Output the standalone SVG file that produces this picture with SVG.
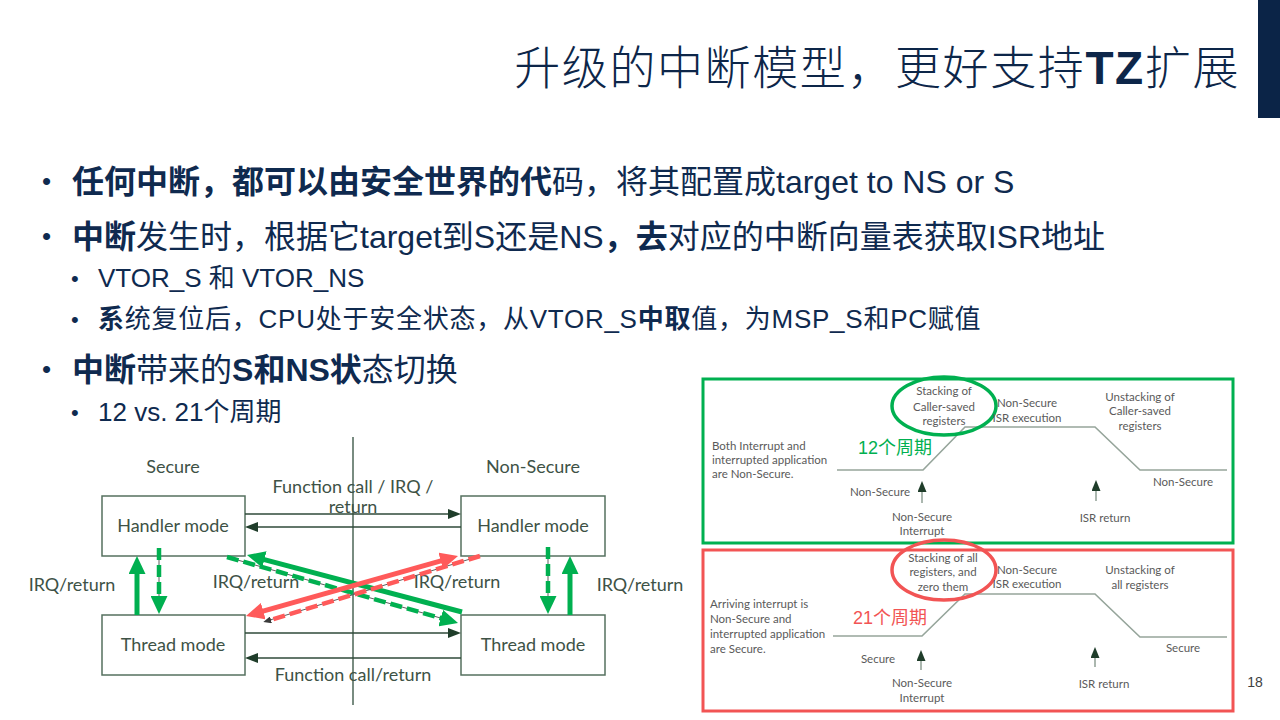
<svg xmlns="http://www.w3.org/2000/svg" width="1280" height="720" viewBox="0 0 1280 720">
<style>
.title{font-family:"Liberation Sans","Noto Sans CJK SC",sans-serif;font-size:46px;letter-spacing:1.6px;font-weight:300;fill:#0d2649}
.b1{font-family:"Liberation Sans","Noto Sans CJK SC",sans-serif;font-size:32px;fill:#0f2a4f}
.b2{font-family:"Liberation Sans","Noto Sans CJK SC",sans-serif;font-size:26px;fill:#0f2a4f}
.dot1{font-family:"Liberation Sans",sans-serif;font-size:26px;fill:#0f2a4f}
.dot2{font-family:"Liberation Sans",sans-serif;font-size:22px;fill:#0f2a4f}
.bd{font-weight:bold}
.dg{font-family:Lato,"Open Sans",sans-serif;font-size:18px;fill:#3e5246;text-anchor:middle}
.box{fill:#ffffff;stroke:#55705f;stroke-width:1.5}
.thin{stroke:#2f4a3a;stroke-width:1.3;fill:none}
.axis{stroke:#4d6657;stroke-width:1.5;fill:none}
.under{stroke:#5e5e5e;stroke-width:1;fill:none}
.gs{stroke:#00b050;stroke-width:5;fill:none}
.gd{stroke:#00b050;stroke-width:4.5;stroke-dasharray:12 5;fill:none}
.rs{stroke:#ff5a5a;stroke-width:5;fill:none}
.rd{stroke:#ff5a5a;stroke-width:4.5;stroke-dasharray:12 5;fill:none}
.pt{font-family:Lato,"Open Sans",sans-serif;font-size:11.5px;fill:#5a5a5a;text-anchor:middle}
.ptl{font-family:Lato,"Open Sans",sans-serif;font-size:11.5px;fill:#5a5a5a}
.step{stroke:#96a59b;stroke-width:1.6;fill:none}
.cyc{font-family:"Liberation Sans","Noto Sans CJK SC",sans-serif;font-size:18px}
</style>
<defs>
<marker id="ah" viewBox="0 0 13 10" refX="2" refY="5" markerWidth="13" markerHeight="10" markerUnits="userSpaceOnUse" orient="auto-start-reverse"><path d="M0,0 L13,5 L0,10 z" fill="#1f3d2a"/></marker>
<marker id="gh" viewBox="0 0 18 17" refX="3" refY="8.5" markerWidth="18" markerHeight="17" markerUnits="userSpaceOnUse" orient="auto-start-reverse"><path d="M0,0 L18,8.5 L0,17 z" fill="#00b050"/></marker>
<marker id="rh" viewBox="0 0 18 17" refX="3" refY="8.5" markerWidth="18" markerHeight="17" markerUnits="userSpaceOnUse" orient="auto-start-reverse"><path d="M0,0 L18,8.5 L0,17 z" fill="#ff5a5a"/></marker>
<marker id="sh" viewBox="0 0 11 9" refX="2" refY="4.5" markerWidth="11" markerHeight="9" markerUnits="userSpaceOnUse" orient="auto"><path d="M0,0 L11,4.5 L0,9 z" fill="#1f3d2a"/></marker>
<marker id="dh" viewBox="0 0 8 7" refX="1" refY="3.5" markerWidth="8" markerHeight="7" markerUnits="userSpaceOnUse" orient="auto"><path d="M0,0 L8,3.5 L0,7 z" fill="#3a3a3a"/></marker>
</defs>
<rect width="1280" height="720" fill="#ffffff"/>
<rect x="1258" y="0" width="22" height="118" fill="#0b2447"/>

<g id="title"><text class="title" x="1240" y="84" text-anchor="end">升级的中断模型，更好支持<tspan class="bd">TZ</tspan>扩展</text></g>

<g id="bullets">
<text class="dot1" x="42" y="190">•</text>
<text class="b1" x="72" y="193"><tspan class="bd">任何中断，都可以由安全世界的代</tspan>码，将其配置成target to NS or S</text>
<text class="dot1" x="42" y="245">•</text>
<text class="b1" x="72" y="248"><tspan class="bd">中断</tspan>发生时，根据它target到S还是NS<tspan class="bd">，去</tspan>对应的中断向量表获取ISR地址</text>
<text class="dot2" x="71" y="286">•</text>
<text class="b2" x="98" y="287">VTOR_S 和 VTOR_NS</text>
<text class="dot2" x="71" y="327">•</text>
<text class="b2" x="98" y="328" letter-spacing="0.75"><tspan class="bd">系</tspan>统复位后，CPU处于安全状态，从VTOR_S<tspan class="bd">中取</tspan>值，为MSP_S和PC赋值</text>
<text class="dot1" x="42" y="378">•</text>
<text class="b1" x="72" y="381"><tspan class="bd">中断</tspan>带来的<tspan class="bd">S和NS状</tspan>态切换</text>
<text class="dot2" x="71" y="420">•</text>
<text class="b2" x="98" y="421">12 vs. 21个周期</text>
</g>

<g id="left-diagram">
<line class="axis" x1="353" y1="437" x2="353" y2="705"/>
<text class="dg" x="173" y="473">Secure</text>
<text class="dg" x="533" y="473">Non-Secure</text>
<g id="s-handler"><rect class="box" x="102" y="496" width="143" height="60"/><text class="dg" x="173" y="532">Handler mode</text></g>
<g id="s-thread"><rect class="box" x="102" y="615" width="143" height="60"/><text class="dg" x="173" y="651">Thread mode</text></g>
<g id="ns-handler"><rect class="box" x="461" y="496" width="144" height="60"/><text class="dg" x="533" y="532">Handler mode</text></g>
<g id="ns-thread"><rect class="box" x="461" y="615" width="144" height="60"/><text class="dg" x="533" y="651">Thread mode</text></g>
<g id="labels">
<text class="dg" x="353" y="493">Function call / IRQ /</text>
<text class="dg" x="353" y="513">return</text>
<text class="dg" x="353" y="681">Function call/return</text>
<text class="dg" x="72" y="591">IRQ/return</text>
<text class="dg" x="640" y="591">IRQ/return</text>
<text class="dg" x="256" y="588">IRQ/return</text>
<text class="dg" x="457" y="588">IRQ/return</text>
</g>
<g id="connectors">
<line class="thin" x1="245" y1="514" x2="450" y2="514" marker-end="url(#ah)"/>
<line class="thin" x1="461" y1="527" x2="256" y2="527" marker-end="url(#ah)"/>
<line class="thin" x1="245" y1="633" x2="450" y2="633" marker-end="url(#ah)"/>
<line class="thin" x1="461" y1="658" x2="256" y2="658" marker-end="url(#ah)"/>
<line class="gs" x1="137" y1="615" x2="137" y2="571" marker-end="url(#gh)"/>
<line class="under" x1="159" y1="548" x2="159" y2="600"/>
<line class="gd" x1="159" y1="548" x2="159" y2="599" marker-end="url(#gh)"/>
<line class="under" x1="548" y1="547" x2="548" y2="600"/>
<line class="gd" x1="548" y1="547" x2="548" y2="599" marker-end="url(#gh)"/>
<line class="gs" x1="570" y1="615" x2="570" y2="571" marker-end="url(#gh)"/>
<line class="under" x1="227" y1="557" x2="444" y2="619"/>
<line class="gd" x1="227" y1="557" x2="443.6" y2="618.9" marker-end="url(#gh)"/>
<line class="gs" x1="462" y1="612" x2="261.5" y2="558.8" marker-end="url(#gh)"/>
<line class="under" x1="480" y1="556" x2="270" y2="620"/>
<line class="rd" x1="480" y1="556" x2="272" y2="619.5"/>
<line class="under" x1="272" y1="619.5" x2="270" y2="620.1" marker-end="url(#dh)"/>
<line class="rs" x1="260.4" y1="611.9" x2="443.6" y2="560.1" marker-start="url(#rh)" marker-end="url(#rh)"/>
</g>
</g>

<g id="panel-ns">
<rect x="703" y="379" width="530" height="164" fill="none" stroke="#00b050" stroke-width="3"/>
<text class="ptl" x="712" y="450">Both Interrupt and</text>
<text class="ptl" x="712" y="464">interrupted application</text>
<text class="ptl" x="712" y="478">are Non-Secure.</text>
<polyline class="step" points="837,470 923,470 965,427 1095,427 1140,470 1227,470"/>
<text class="pt" x="944" y="395">Stacking of</text>
<text class="pt" x="944" y="411">Caller-saved</text>
<text class="pt" x="944" y="425">registers</text>
<ellipse cx="944" cy="406" rx="52" ry="29" fill="none" stroke="#00b050" stroke-width="3.5"/>
<text class="cyc" x="858" y="454" fill="#00b050">12个周期</text>
<text class="pt" x="1027" y="407">Non-Secure</text>
<text class="pt" x="1027" y="422">ISR execution</text>
<text class="pt" x="1140" y="401">Unstacking of</text>
<text class="pt" x="1140" y="415">Caller-saved</text>
<text class="pt" x="1140" y="430">registers</text>
<text class="pt" x="880" y="496">Non-Secure</text>
<text class="pt" x="1183" y="486">Non-Secure</text>
<line class="step" x1="922" y1="503" x2="922" y2="490" marker-end="url(#sh)"/>
<line class="step" x1="1096" y1="501" x2="1096" y2="489" marker-end="url(#sh)"/>
<text class="pt" x="922" y="521">Non-Secure</text>
<text class="pt" x="922" y="535">Interrupt</text>
<text class="pt" x="1105" y="522">ISR return</text>
</g>

<g id="panel-s">
<rect x="703" y="550" width="530" height="161" fill="none" stroke="#f25454" stroke-width="3"/>
<text class="ptl" x="710" y="608">Arriving interrupt is</text>
<text class="ptl" x="710" y="623">Non-Secure and</text>
<text class="ptl" x="710" y="638">interrupted application</text>
<text class="ptl" x="710" y="653">are Secure.</text>
<polyline class="step" points="833,636 922,636 965,594 1095,594 1140,637 1227,637"/>
<text class="pt" x="943" y="562">Stacking of all</text>
<text class="pt" x="943" y="576">registers, and</text>
<text class="pt" x="943" y="591">zero them</text>
<ellipse cx="944" cy="570" rx="52" ry="30" fill="none" stroke="#f25454" stroke-width="3.5"/>
<text class="cyc" x="853" y="624" fill="#f25454">21个周期</text>
<text class="pt" x="1027" y="574">Non-Secure</text>
<text class="pt" x="1027" y="588">ISR execution</text>
<text class="pt" x="1140" y="574">Unstacking of</text>
<text class="pt" x="1140" y="589">all registers</text>
<text class="pt" x="878" y="663">Secure</text>
<text class="pt" x="1183" y="652">Secure</text>
<line class="step" x1="921" y1="670" x2="921" y2="659" marker-end="url(#sh)"/>
<line class="step" x1="1095" y1="667" x2="1095" y2="656" marker-end="url(#sh)"/>
<text class="pt" x="922" y="687">Non-Secure</text>
<text class="pt" x="922" y="702">Interrupt</text>
<text class="pt" x="1104" y="688">ISR return</text>
</g>

<text x="1255" y="687" font-family="Liberation Sans, sans-serif" font-size="14" fill="#404040" text-anchor="middle">18</text>
</svg>
